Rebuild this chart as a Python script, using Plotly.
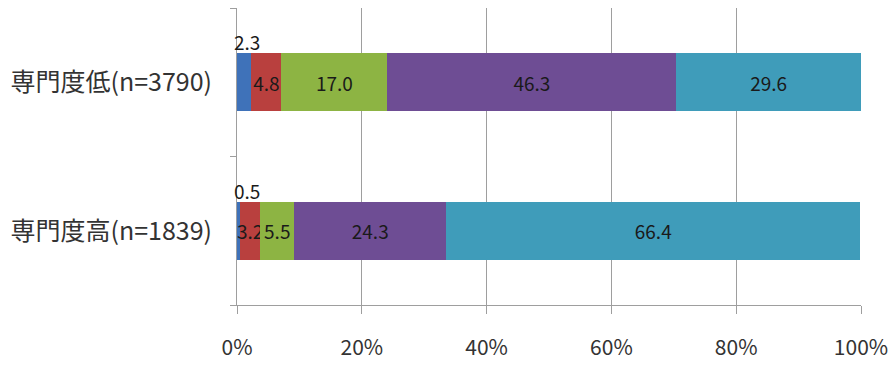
import plotly.graph_objects as go

categories = ["専門度高(n=1839)", "専門度低(n=3790)"]
series_names = ["系列1", "系列2", "系列3", "系列4", "系列5"]
values = [
    [0.5, 2.3],
    [3.2, 4.8],
    [5.5, 17.0],
    [24.3, 46.3],
    [66.4, 29.6],
]
colors = ["#3F72B9", "#B9403E", "#8DB443", "#6E4D94", "#3F9CBA"]
tick_vals = [0, 20, 40, 60, 80, 100]
tick_text = ["0%", "20%", "40%", "60%", "80%", "100%"]

FONT = "Noto Sans CJK JP"

fig = go.Figure()
for i, (name, vals) in enumerate(zip(series_names, values)):
    fig.add_trace(go.Bar(
        y=categories, x=vals, name=name, orientation="h",
        marker=dict(color=colors[i], line=dict(width=0)),
        text=[f"{v:.1f}" for v in vals] if i > 0 else None,
        textposition="inside" if i > 0 else "none",
        insidetextanchor="middle",
        textangle=0,
        constraintext="none",
        textfont=dict(family=FONT, size=19, color="#1a1a1a"),
        showlegend=False,
    ))

# first series labels above the bar
for c, v in zip(categories, values[0]):
    fig.add_annotation(x=0, y=c, text=f"{v:.1f}", showarrow=False,
                       xanchor="left", yanchor="bottom", yshift=25, xshift=-5,
                       font=dict(family=FONT, size=19, color="#1a1a1a"))

fig.update_layout(
    barmode="stack",
    bargap=0.61,
    width=891, height=384,
    margin=dict(l=237, r=30, t=8, b=79, autoexpand=False),
    paper_bgcolor="white", plot_bgcolor="white",
    font=dict(family=FONT, color="#333333"),
)
fig.update_xaxes(
    range=[0, 100], tickvals=tick_vals, ticktext=tick_text,
    showgrid=True, gridcolor="#9E9E9E", gridwidth=1,
    showline=True, linecolor="#9E9E9E", linewidth=1,
    ticks="outside", ticklen=8, tickcolor="#9E9E9E",
    tickfont=dict(family=FONT, size=21, color="#333333"),
    ticklabelstandoff=16,
    zeroline=False, automargin=False,
)
fig.update_yaxes(
    showline=True, linecolor="#9E9E9E", linewidth=1,
    ticks="outside", ticklen=6, tickcolor="#9E9E9E", tickson="boundaries",
    tickfont=dict(family=FONT, size=25, color="#333333"),
    ticklabelstandoff=19,
    showgrid=False, automargin=False,
)

fig.write_html("out.html")
